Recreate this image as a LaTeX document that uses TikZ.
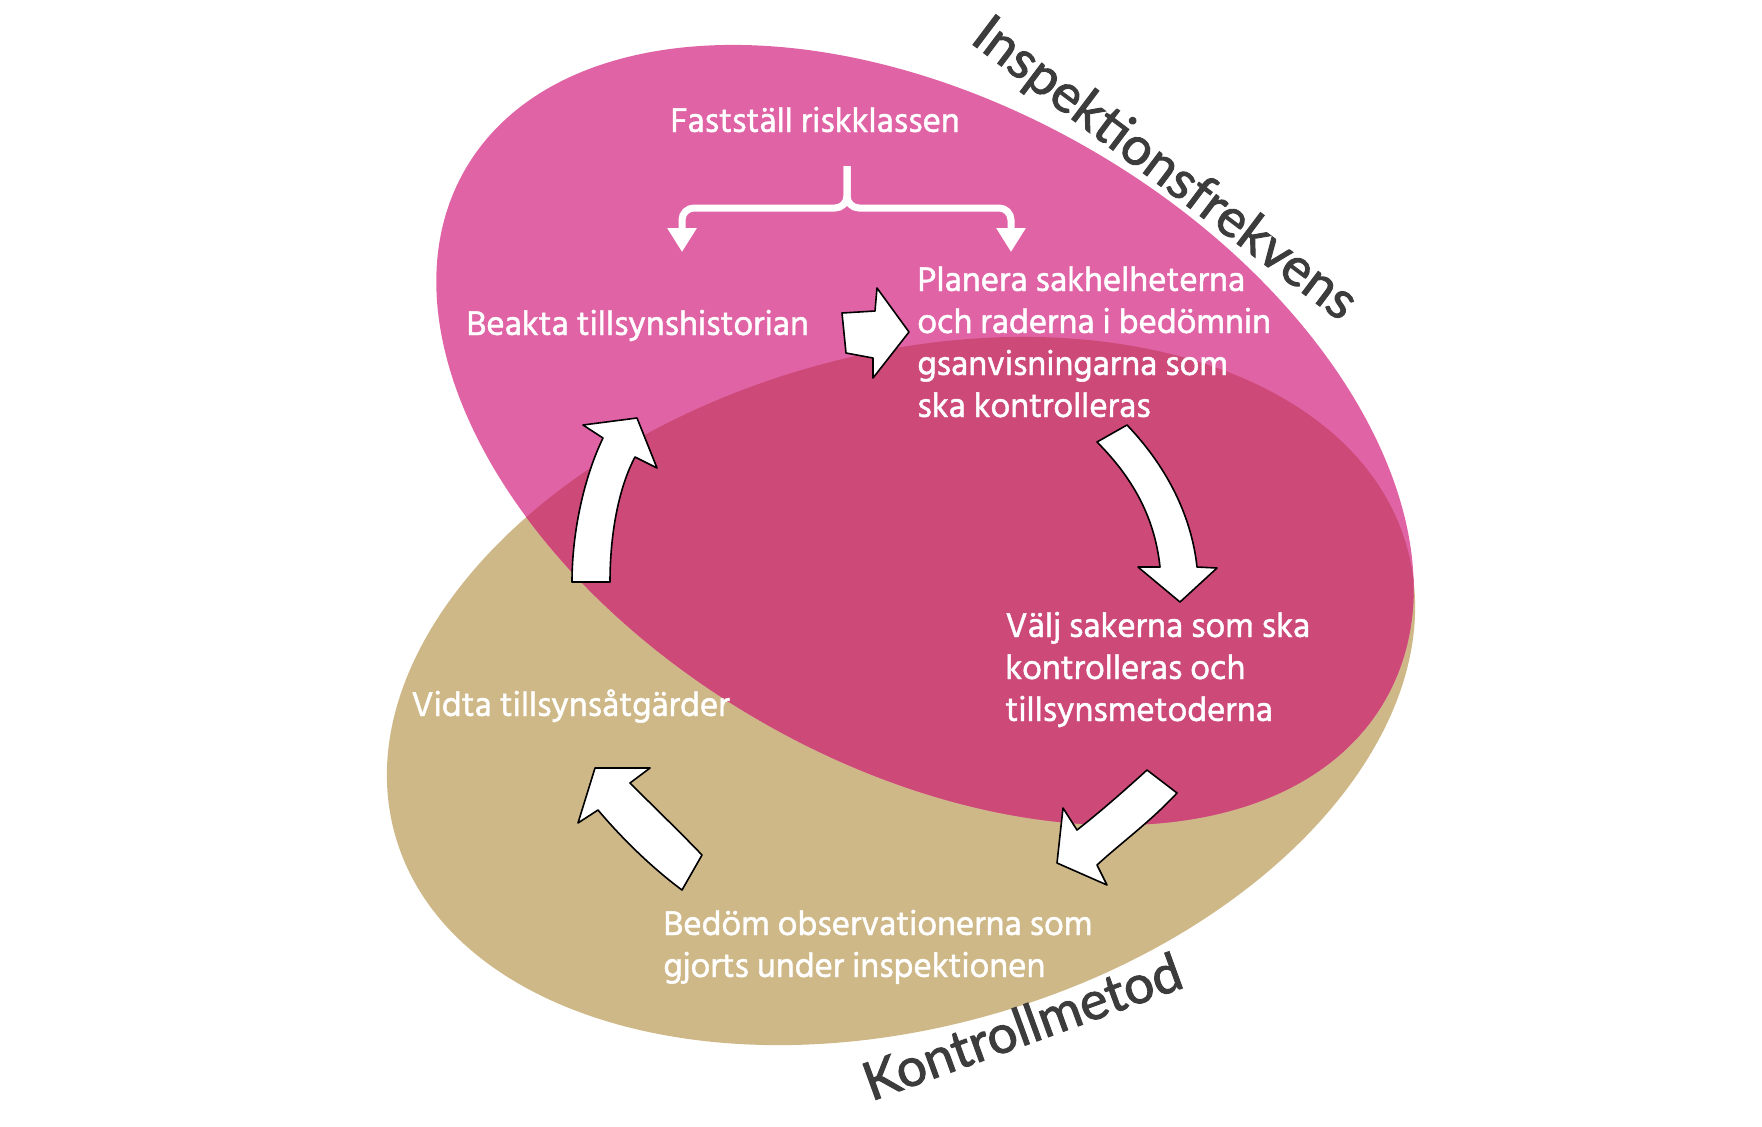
\documentclass[tikz,border=0pt]{standalone}
\usepackage{fontspec}
\setmainfont{Hind Siliguri}[UprightFeatures={FakeBold=1.3}]
\newfontfamily\rubrikfont{Lato}[UprightFeatures={FakeBold=1.8}]
\usetikzlibrary{arrows.meta}
\usetikzlibrary{positioning}
\definecolor{rosa}{RGB}{224,100,165}
\definecolor{rosamork}{RGB}{205,74,120}
\definecolor{sand}{RGB}{206,184,136}
\definecolor{gra}{RGB}{60,60,60}
\tikzset{>=Triangle,
  steg/.style={text=white,font=\fontsize{17.5}{21}\selectfont,inner sep=0pt,align=left},
  rubrik/.style={text=gra,font=\rubrikfont\fontsize{26.5}{30}\selectfont,inner sep=0pt},
  pil/.style={fill=white,draw=black,line width=0.8pt,line join=round},
  klammer/.style={white,line width=3.5pt,rounded corners=6pt,-{Triangle[width=14pt,length=12pt]}}}

\begin{document}
\begin{tikzpicture}[x=0.5pt,y=-0.5pt]
\useasboundingbox (0,0) rectangle (1762,1126);
% de tva ellipserna
\fill[sand,rotate around={16:(901,691)}] (901,691) ellipse [x radius=526,y radius=336];
\fill[rosa,rotate around={-30:(925,435)}] (925,435) ellipse [x radius=531,y radius=330];
\begin{scope}
\clip[rotate around={16:(901,691)}] (901,691) ellipse [x radius=526,y radius=336];
\fill[rosamork,rotate around={-30:(925,435)}] (925,435) ellipse [x radius=531,y radius=330];
\end{scope}

% stegen (base = sista raden)
\node[steg,anchor=base west] (riskklass) at (670,132) {Fastställ riskklassen};
\node[steg,anchor=base west] (historik) at (466,335) {Beakta tillsynshistorian};
\node[steg,anchor=base west] (planera) at (917,417) {Planera sakhelheterna\\och raderna i bedömnin\\gsanvisningarna som\\ska kontrolleras};
\node[steg,anchor=base west] (valj) at (1005,721) {Välj sakerna som ska\\kontrolleras och\\tillsynsmetoderna};
\node[steg,anchor=base west] (vidta) at (411,716) {Vidta tillsynsåtgärder};
\node[steg,anchor=base west] (bedom) at (663,977) {Bedöm observationerna som\\gjorts under inspektionen};

\node[rubrik,rotate=-37] (frekvens) at (1164,170) {Inspektionsfrekvens};
\node[rubrik,rotate=20] (metod) at (1022,1026) {Kontrollmetod};

% klammern
\coordinate (stam) at (847,166);
\coordinate (vanster) at (682,252);
\coordinate (hoger) at (1011,252);
\draw[klammer] (stam) -- (847,208) -- (682,208) -- (vanster);
\draw[klammer] (stam) -- (847,208) -- (1011,208) -- (hoger);

% pilarna
\filldraw[pil] (842,313) -- (875,311) -- (877,288) -- (909,332) -- (873,378) -- (873,358) -- (846,353) -- cycle;
\filldraw[pil] (1127,425) .. controls (1170,470) and (1192,520) .. (1197,567) -- (1217,568) -- (1180,602)
  -- (1138,567) -- (1160,567) .. controls (1155,520) and (1135,480) .. (1097,442) -- cycle;
\filldraw[pil] (1177,793) .. controls (1150,822) and (1122,842) .. (1097,865) -- (1107,885) -- (1057,863)
  -- (1063,808) -- (1077,830) .. controls (1100,812) and (1125,790) .. (1147,770) -- cycle;
\filldraw[pil] (682,890) .. controls (655,870) and (625,842) .. (598,810) -- (578,823) -- (595,768)
  -- (650,768) -- (630,783) .. controls (655,808) and (680,832) .. (702,855) -- cycle;
\filldraw[pil] (572,582) .. controls (572,530) and (585,475) .. (603,438) -- (583,425) -- (637,418)
  -- (657,468) -- (635,457) .. controls (620,485) and (610,530) .. (610,582) -- cycle;
\end{tikzpicture}
\end{document}
